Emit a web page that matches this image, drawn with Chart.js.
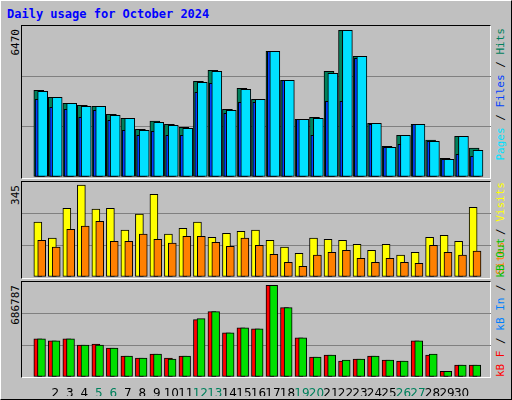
<!DOCTYPE html>
<html>
<head>
<meta charset="utf-8">
<script src="https://cdn.jsdelivr.net/npm/chart.js@4"></script>
<style>
  body { margin: 0; }
  #wrap { position: relative; width: 512px; height: 400px; background: #c0c0c0; box-sizing: border-box;
          border: 1px solid #fff; border-right-color: #000; border-bottom-color: #000; overflow: hidden; }
  .panel { position: absolute; left: 20px; width: 470px; box-sizing: border-box;
           border: 1px solid #000; border-right-color: #fff; border-bottom-color: #fff; }
  canvas { position: absolute; }
  .rot { position: absolute; transform-origin: top left; transform: rotate(-90deg); text-align: right;
         font: 11px "DejaVu Sans Mono", monospace; line-height: 12px; height: 12px; white-space: nowrap; }
  #title { position: absolute; left: 6px; top: 6px; font: bold 12px "DejaVu Sans Mono", monospace; color: #0000ff; }
</style>
</head>
<body>
<div id="wrap">
  <div id="title">Daily usage for October 2024</div>
  <div class="panel" style="top:24px;height:154px"></div>
  <div class="panel" style="top:180px;height:98px"></div>
  <div class="panel" style="top:280px;height:97px"></div>
  <canvas id="c1" style="left:21px;top:25px" width="469" height="151"></canvas>
  <canvas id="c2" style="left:21px;top:181px" width="469" height="95"></canvas>
  <canvas id="c3" style="left:21px;top:281px" width="469" height="114"></canvas>

  <div class="rot" style="left:9px;top:90px;width:62px">6470</div>
  <div class="rot" style="left:9px;top:240px;width:56px">345</div>
  <div class="rot" style="left:9px;top:340px;width:56px">686787</div>

  <div class="rot" style="left:494px;top:170px;width:143px"><span style="color:#00e0ff">Pages</span> / <span style="color:#0040ff">Files</span> / <span style="color:#00805c">Hits</span></div>
  <div class="rot" style="left:494px;top:276px;width:95px"><span style="color:#ff8000">Sites</span> / <span style="color:#ffff00">Visits</span></div>
  <div class="rot" style="left:494px;top:376px;width:95px"><span style="color:#ff0000">kB F</span> / <span style="color:#0080ff">kB In</span> / <span style="color:#00c000">kB Out</span></div>
</div>
<script>
const days = Array.from({length: 31}, (_, i) => i + 1);
const weekendDays = [5, 6, 12, 13, 19, 20, 26, 27];

const hits  = [3822,3514,3249,3161,3117,2764,2588,2103,2470,2323,2191,4220,4705,2985,3911,3426,5543,4264,2544,2632,4661,6470,5323,2367,1353,1838,2323,1632,823,1794,1279];
const files = [3778,3514,3249,3117,3117,2720,2588,2058,2411,2279,2147,4176,4661,2941,3867,3426,5543,4264,2544,2588,4573,6470,5323,2367,1308,1838,2323,1573,779,1794,1176];
const pages = [3425,3072,2984,2631,2940,2499,2058,1838,2014,1838,1838,3734,4131,2808,3293,3293,5543,4264,2544,1838,3337,3337,5234,2323,1308,1441,2323,1573,779,1000,911];

const visits = [206,146,258,345,255,258,176,236,311,161,183,206,149,164,172,176,138,112,89,146,142,138,123,100,123,82,93,149,157,134,262];
const sites  = [138,112,179,191,209,134,134,161,142,127,153,153,130,115,146,119,85,55,40,82,93,100,70,55,70,55,51,119,93,82,97];

const kbF   = [285300,270200,285300,239900,247500,217200,156600,141400,171700,141400,156600,429300,489900,330800,368700,361100,686787,520200,292900,149000,164100,118700,133800,156600,126300,118700,270200,164100,42900,88400,88400];
const kbOut = [285300,270200,285300,239900,239900,217200,156600,141400,171700,133800,156600,436800,489900,330800,368700,361100,686787,520200,292900,149000,164100,126300,133800,156600,126300,118700,270200,171700,42900,88400,88400];

const X_MIN = 0.23, X_MAX = 31.51;

// order: higher numbers are drawn first (underneath)
function series(vals, off, color, w, order) {
    return {
        data: vals.map((v, i) => ({ x: days[i] + off, y: v })),
        backgroundColor: color, borderColor: '#000', borderWidth: 1,
        barThickness: w, grouped: false, borderSkipped: false, order: order
    };
}

function opts(yMax, withAxis) {
    return {
        responsive: false, animation: false, events: [],
        layout: { padding: 0 },
        plugins: { legend: { display: false }, tooltip: { enabled: false } },
        scales: {
            x: {
                type: 'linear', min: X_MIN, max: X_MAX, display: withAxis,
                grid: { display: false }, border: { display: false },
                afterFit: s => { if (withAxis) s.height = 19; },
                ticks: {
                    stepSize: 1, autoSkip: false, maxRotation: 0, padding: 2,
                    font: { family: 'DejaVu Sans', size: 12 },
                    color: c => weekendDays.includes(c.tick.value) ? '#00805c' : '#000',
                    callback: v => (Number.isInteger(v) && v >= 1 && v <= 31) ? v : ''
                }
            },
            y: {
                min: 0, max: yMax, display: true,
                afterFit: s => { s.width = 0; },
                ticks: { display: false, stepSize: yMax / 3 },
                grid: { color: c => (c.tick.value > 0 && c.tick.value < yMax) ? '#808080' : 'rgba(0,0,0,0)', drawTicks: false, lineWidth: 1 },
                border: { display: false }
            }
        }
    };
}

document.addEventListener('DOMContentLoaded', function() {
    new Chart(document.getElementById('c1'), {
        type: 'bar',
        data: { datasets: [
            series(hits, -0.133, '#00805c', 10, 3),
            series(pages, -0.04, '#0040ff', 10, 2),
            series(files, 0.133, '#00e0ff', 10, 1)
        ] },
        options: opts(6660, false)
    });
    new Chart(document.getElementById('c2'), {
        type: 'bar',
        data: { datasets: [
            series(visits, -0.2, '#ffff00', 8, 2),
            series(sites, 0.067, '#ff8000', 8, 1)
        ] },
        options: opts(357, false)
    });
    new Chart(document.getElementById('c3'), {
        type: 'bar',
        data: { datasets: [
            series(kbF, -0.2, '#ff0000', 8, 2),
            series(kbOut, 0.05, '#00e000', 8, 1)
        ] },
        options: opts(711800, true)
    });
});
</script>
</body>
</html>
